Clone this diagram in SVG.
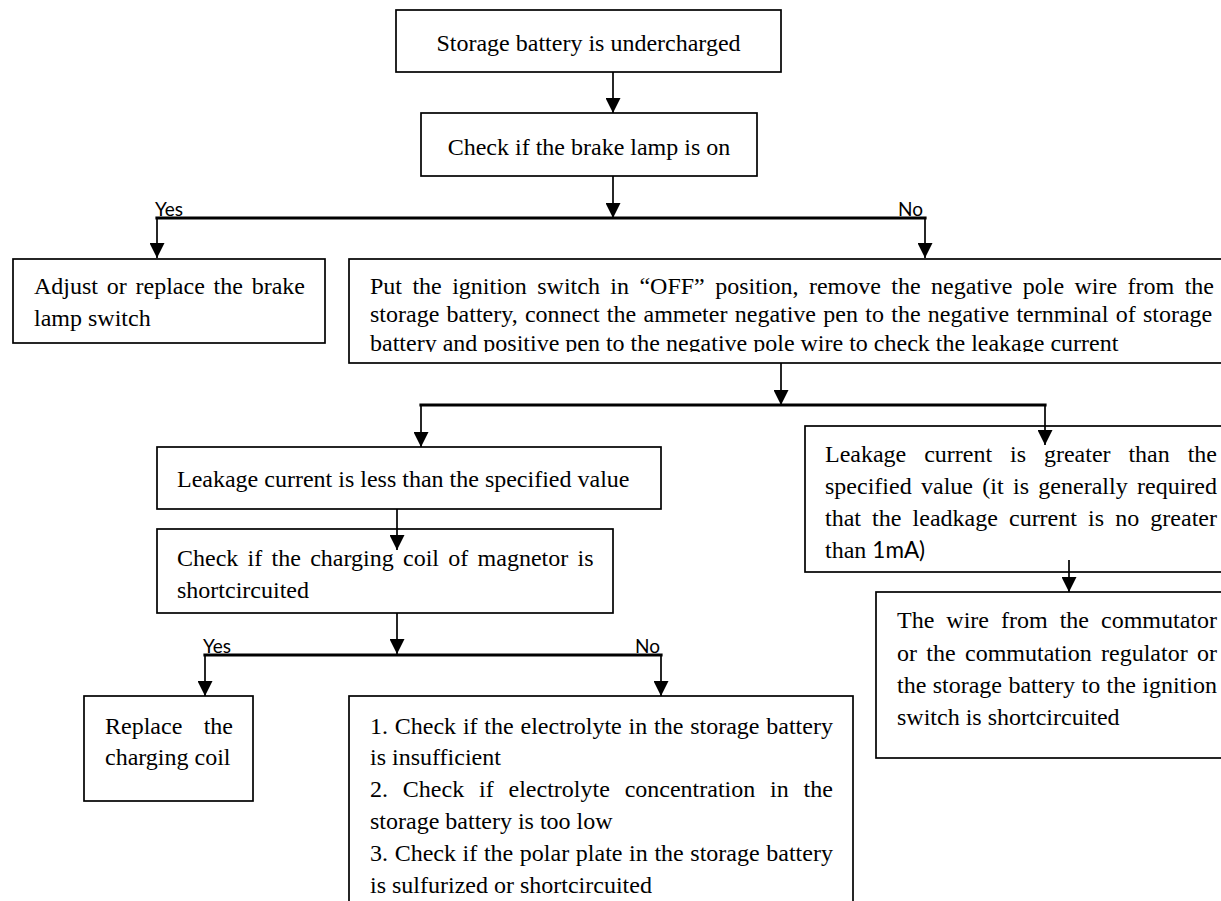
<svg xmlns="http://www.w3.org/2000/svg" width="1221" height="901" viewBox="0 0 1221 901">
  <style>
    .box { fill: #fff; stroke: #000; stroke-width: 1.7; }
    .t { font-family: "Liberation Serif", "Times New Roman", serif; font-size: 24px; fill: #000; }
    .sans { font-family: Lato, "Liberation Sans", sans-serif; font-size: 19px; fill: #000; }
    .unit { font-family: Lato, "Liberation Sans", sans-serif; font-size: 22.5px; }
    .wire { stroke: #000; stroke-width: 1.7; fill: none; marker-end: url(#ah); }
    .bus { stroke: #000; stroke-width: 3.2; fill: none; stroke-linecap: square; }
  </style>
  <defs>
    <marker id="ah" viewBox="0 0 15 15" refX="15" refY="7.5" markerWidth="15" markerHeight="15" markerUnits="userSpaceOnUse" orient="auto">
      <path d="M0,0 L15,7.5 L0,15 Z" fill="#000"/>
    </marker>
    <clipPath id="clipD">
      <rect x="349" y="259" width="880" height="93"/>
    </clipPath>
  </defs>

  <rect width="1221" height="901" fill="#fff"/>

  <!-- nodes -->
  <g id="n-undercharged">
    <rect class="box" x="396" y="10" width="385" height="62"/>
    <text class="t" x="588.5" y="51" text-anchor="middle">Storage battery is undercharged</text>
  </g>

  <g id="n-brake-lamp">
    <rect class="box" x="421" y="113" width="336" height="63"/>
    <text class="t" x="589" y="155" text-anchor="middle">Check if the brake lamp is on</text>
  </g>

  <g id="n-adjust-switch">
    <rect class="box" x="13" y="259" width="312" height="84"/>
    <text class="t" x="34" y="294" word-spacing="2.78">Adjust or replace the brake</text>
    <text class="t" x="34" y="326">lamp switch</text>
  </g>

  <g id="n-leakage-test">
    <rect class="box" x="349" y="259" width="890" height="104"/>
    <g clip-path="url(#clipD)">
      <text class="t" x="370" y="294" word-spacing="4.42">Put the ignition switch in “OFF” position, remove the negative pole wire from the</text>
      <text class="t" x="370" y="322" word-spacing="1.29">storage battery, connect the ammeter negative pen to the negative ternminal of storage</text>
      <text class="t" x="370" y="350.5">battery and positive pen to the negative pole wire to check the leakage current</text>
    </g>
  </g>

  <g id="n-leakage-low">
    <rect class="box" x="157" y="447" width="504" height="62"/>
    <text class="t" x="177" y="487">Leakage current is less than the specified value</text>
  </g>

  <g id="n-leakage-high">
    <rect class="box" x="805" y="426" width="430" height="146"/>
    <text class="t" x="825" y="462" word-spacing="11.9">Leakage current is greater than the</text>
    <text class="t" x="825" y="494" word-spacing="3.36">specified value (it is generally required</text>
    <text class="t" x="825" y="526" word-spacing="5.13">that the leadkage current is no greater</text>
    <text class="t" x="825" y="558">than <tspan class="unit">1mA)</tspan></text>
  </g>

  <g id="n-charging-coil-check">
    <rect class="box" x="157" y="529" width="456" height="84"/>
    <text class="t" x="177" y="566" word-spacing="3.3">Check if the charging coil of magnetor is</text>
    <text class="t" x="177" y="598">shortcircuited</text>
  </g>

  <g id="n-wire-short">
    <rect class="box" x="876" y="592" width="360" height="166"/>
    <text class="t" x="897" y="628" word-spacing="6.02">The wire from the commutator</text>
    <text class="t" x="897" y="661" word-spacing="3.35">or the commutation regulator or</text>
    <text class="t" x="897" y="693" word-spacing="0.4">the storage battery to the ignition</text>
    <text class="t" x="897" y="725">switch is shortcircuited</text>
  </g>

  <g id="n-replace-coil">
    <rect class="box" x="84" y="696" width="169" height="105"/>
    <text class="t" x="105" y="734" word-spacing="15.4">Replace the</text>
    <text class="t" x="105" y="765">charging coil</text>
  </g>

  <g id="n-electrolyte-checks">
    <rect class="box" x="349" y="696" width="504" height="230"/>
    <text class="t" x="370" y="734" word-spacing="0.8">1. Check if the electrolyte in the storage battery</text>
    <text class="t" x="370" y="765">is insufficient</text>
    <text class="t" x="370" y="797" word-spacing="8.85">2. Check if electrolyte concentration in the</text>
    <text class="t" x="370" y="829">storage battery is too low</text>
    <text class="t" x="370" y="861" word-spacing="0.64">3. Check if the polar plate in the storage battery</text>
    <text class="t" x="370" y="893">is sulfurized or shortcircuited</text>
  </g>

  <!-- connectors -->
  <g id="connectors">
    <path class="wire" d="M613,72 V113"/>
    <path class="wire" d="M613,176 V218"/>

    <path class="bus" d="M157,218 H925"/>
    <path class="wire" d="M157,218 V258"/>
    <path class="wire" d="M925,218 V258"/>
    <text class="sans" x="155" y="216">Yes</text>
    <text class="sans" x="898" y="216">No</text>

    <path class="wire" d="M781,363 V405"/>
    <path class="bus" d="M421,405 H1045"/>
    <path class="wire" d="M421,405 V447"/>
    <path class="wire" d="M1045,405 V445"/>

    <path class="wire" d="M397,509 V550"/>
    <path class="wire" d="M1069,560 V592"/>

    <path class="wire" d="M397,613 V654"/>
    <path class="bus" d="M205,655 H661"/>
    <path class="wire" d="M205,655 V696"/>
    <path class="wire" d="M661,655 V696"/>
    <text class="sans" x="203" y="653">Yes</text>
    <text class="sans" x="635" y="653">No</text>
  </g>
</svg>
